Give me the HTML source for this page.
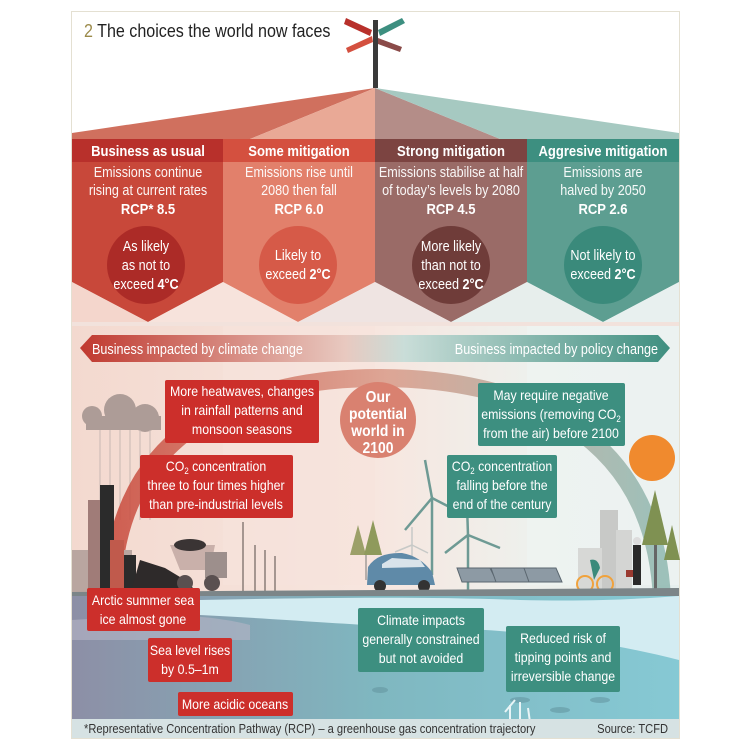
<!DOCTYPE html>
<html><head><meta charset="utf-8"><style>
html,body{margin:0;padding:0;background:#fff;}
svg{display:block;}
text{font-family:"Liberation Sans",sans-serif;transform-box:fill-box;transform-origin:center;transform:scaleX(.87);}
text.l{transform-origin:left center;}
text.r{transform-origin:right center;}
</style></head><body>
<svg width="750" height="750" viewBox="0 0 750 750" xmlns="http://www.w3.org/2000/svg">
<defs>
<linearGradient id="sky" x1="0" x2="1" y1="0" y2="0">
<stop offset="0" stop-color="#f3d9cf"/><stop offset="0.5" stop-color="#f7e6df"/><stop offset="0.75" stop-color="#eef0ec"/><stop offset="1" stop-color="#e6efee"/></linearGradient>
<linearGradient id="band" x1="0" x2="1"><stop offset="0" stop-color="#c0392f"/><stop offset="0.45" stop-color="#e8c9c0"/><stop offset="0.55" stop-color="#c9ddd8"/><stop offset="1" stop-color="#3f8f80"/></linearGradient>
<linearGradient id="water" x1="0" x2="1" y1="0" y2="0"><stop offset="0" stop-color="#8d8fa6"/><stop offset="0.5" stop-color="#7fb7c0"/><stop offset="1" stop-color="#86c9d4"/></linearGradient>
<linearGradient id="arc" x1="0" x2="1"><stop offset="0" stop-color="#c8493b"/><stop offset="0.5" stop-color="#d99a88"/><stop offset="1" stop-color="#8fb8b0"/></linearGradient>
</defs>
<rect x="0" y="0" width="750" height="750" fill="#fff"/>
<rect x="71.5" y="11.5" width="608" height="727" fill="#fff" stroke="#e4e0d2"/>
<rect x="72" y="325" width="607" height="400" fill="url(#sky)"/>
<rect x="223" y="325" width="152" height="260" fill="#f6e3dc" opacity="0.6"/>
<rect x="527" y="325" width="152" height="260" fill="#eef3f2" opacity="0.7"/>
<polygon points="375,88 72,133 72,282 148,322 223,282 223,150" fill="#d0705e"/>
<polygon points="375,88 223,150 223,282 298,322 375,282" fill="#e9a996"/>
<polygon points="375,88 375,282 451,322 527,282 527,150" fill="#b48d88"/>
<polygon points="375,88 527,150 527,282 603,322 679,282 679,133" fill="#a6c9c1"/>
<polygon points="72,162 223,162 223,282 148,322 72,282" fill="#c8483a"/>
<polygon points="223,162 375,162 375,282 298,322 223,282" fill="#e2806b"/>
<polygon points="375,162 527,162 527,282 451,322 375,282" fill="#9a6b67"/>
<polygon points="527,162 679,162 679,282 603,322 527,282" fill="#5d9e91"/>
<polygon points="72,282 148,322 72,322" fill="#f4d6cc"/>
<polygon points="148,322 223,282 298,322" fill="#f7e3dc"/>
<polygon points="298,322 375,282 451,322" fill="#efe4e2"/>
<polygon points="451,322 527,282 603,322" fill="#e7eeec"/>
<polygon points="603,322 679,282 679,322" fill="#e8f0ef"/>
<rect x="72" y="322" width="607" height="4" fill="#f2e2dc"/>
<rect x="72" y="139" width="151" height="23" fill="#b8302b"/>
<rect x="223" y="139" width="152" height="23" fill="#d4503f"/>
<rect x="375" y="139" width="152" height="23" fill="#7c4441"/>
<rect x="527" y="139" width="152" height="23" fill="#3d8f80"/>
<g fill="#fff" font-weight="bold" font-size="15" text-anchor="middle">
<text x="148" y="156">Business as usual</text>
<text x="299" y="156">Some mitigation</text>
<text x="451" y="156">Strong mitigation</text>
<text x="603" y="156">Aggresive mitigation</text>
</g>
<g fill="#fff" font-size="14.5" text-anchor="middle" opacity="0.95">
<text x="148" y="177">Emissions continue</text><text x="148" y="195">rising at current rates</text>
<text x="299" y="177">Emissions rise until</text><text x="299" y="195">2080 then fall</text>
<text x="451" y="177">Emissions stabilise at half</text><text x="451" y="195">of today’s levels by 2080</text>
<text x="603" y="177">Emissions are</text><text x="603" y="195">halved by 2050</text>
</g>
<g fill="#fff" font-size="15" font-weight="bold" text-anchor="middle">
<text x="148" y="214">RCP* 8.5</text><text x="299" y="214">RCP 6.0</text><text x="451" y="214">RCP 4.5</text><text x="603" y="214">RCP 2.6</text>
</g>
<circle cx="146" cy="265" r="39" fill="#ac2b27"/>
<circle cx="298" cy="265" r="39" fill="#d65a48"/>
<circle cx="451" cy="265" r="39" fill="#6f3c39"/>
<circle cx="603" cy="265" r="39" fill="#3a8a7b"/>
<g fill="#fff" font-size="14.5" text-anchor="middle">
<text x="146" y="251">As likely</text><text x="146" y="270">as not to</text><text x="146" y="289">exceed <tspan font-weight="bold">4°C</tspan></text>
<text x="298" y="260">Likely to</text><text x="298" y="279">exceed <tspan font-weight="bold">2°C</tspan></text>
<text x="451" y="251">More likely</text><text x="451" y="270">than not to</text><text x="451" y="289">exceed <tspan font-weight="bold">2°C</tspan></text>
<text x="603" y="260">Not likely to</text><text x="603" y="279">exceed <tspan font-weight="bold">2°C</tspan></text>
</g>
<rect x="373" y="20" width="5" height="68" fill="#3a3a3a"/>
<polygon points="346,18 372,30 370,36 344,24" fill="#b8302b"/>
<polygon points="378,30 402,18 405,23 380,36" fill="#3d8f80"/>
<polygon points="346,48 372,36 373,42 348,53" fill="#d4503f"/>
<polygon points="378,38 402,47 400,52 378,44" fill="#8a4a48"/>
<text class="l" x="84" y="37" font-size="18.5" fill="#222"><tspan fill="#9b8a4a">2</tspan> The choices the world now faces</text>
<polygon points="80,348 92,335 658,335 670,348 658,362 92,362" fill="url(#band)"/>
<text class="l" x="92" y="354" font-size="14.5" fill="#fff">Business impacted by climate change</text>
<text class="r" x="658" y="354" font-size="14.5" fill="#fff" text-anchor="end">Business impacted by policy change</text>
<g fill="#9c8d89" opacity="0.8">
<circle cx="92" cy="416" r="10"/><circle cx="120" cy="410" r="16"/><circle cx="145" cy="418" r="14"/><rect x="86" y="416" width="75" height="14"/>
</g>
<g stroke="#c9b8b3" stroke-width="1"><line x1="100" y1="430" x2="100" y2="520"/><line x1="110" y1="430" x2="110" y2="520"/><line x1="120" y1="430" x2="120" y2="520"/><line x1="130" y1="430" x2="130" y2="520"/><line x1="140" y1="430" x2="140" y2="520"/><line x1="150" y1="430" x2="150" y2="520"/></g>
<path d="M112,600 C112,420 260,378 378,378 C520,378 655,430 662,600" fill="none" stroke="url(#arc)" stroke-width="18" opacity="0.85"/>
<circle cx="652" cy="458" r="23" fill="#f08a2e"/>
<rect x="72" y="550" width="60" height="45" fill="#b9a6a0"/>
<rect x="88" y="500" width="20" height="95" fill="#a07c78"/>
<rect x="100" y="485" width="14" height="110" fill="#2b2b2b"/>
<rect x="110" y="540" width="14" height="55" fill="#c05a4c"/>
<rect x="124" y="555" width="12" height="40" fill="#2b2b2b"/>
<path d="M130,595 L140,560 L165,568 L185,580 L200,595 Z" fill="#2e2a2a"/>
<polygon points="170,545 215,545 210,570 180,570" fill="#c9b0aa"/>
<ellipse cx="190" cy="545" rx="16" ry="6" fill="#3a3434"/>
<rect x="205" y="552" width="22" height="26" fill="#9d8f8c"/>
<circle cx="185" cy="583" r="8" fill="#5a5050"/><circle cx="212" cy="583" r="8" fill="#5a5050"/>
<g stroke="#8a7d78" stroke-width="1.5"><line x1="243" y1="522" x2="243" y2="592"/><line x1="255" y1="545" x2="255" y2="592"/><line x1="265" y1="550" x2="265" y2="592"/><line x1="275" y1="556" x2="275" y2="592"/></g>
<g stroke="#6e9a94" stroke-width="2.5" fill="none">
<line x1="432" y1="498" x2="432" y2="575"/><line x1="432" y1="498" x2="425" y2="460"/><line x1="432" y1="498" x2="405" y2="530"/><line x1="432" y1="498" x2="465" y2="515"/>
<line x1="468" y1="535" x2="468" y2="590"/><line x1="468" y1="535" x2="467" y2="505"/><line x1="468" y1="535" x2="445" y2="553"/><line x1="468" y1="535" x2="500" y2="548"/>
</g>
<g stroke="#c7c9c7" stroke-width="1.5"><line x1="412" y1="545" x2="412" y2="575"/><line x1="412" y1="545" x2="395" y2="552"/><line x1="412" y1="545" x2="428" y2="553"/><line x1="412" y1="545" x2="412" y2="527"/></g>
<polygon points="358,525 366,555 350,555" fill="#9ca069"/><polygon points="373,520 382,555 364,555" fill="#8f9a5c"/>
<line x1="366" y1="555" x2="366" y2="580" stroke="#777"/>
<polygon points="655,490 668,545 642,545" fill="#7f9152"/><rect x="654" y="545" width="3" height="45" fill="#666"/>
<polygon points="672,525 680,560 664,560" fill="#7f9152"/>
<rect x="600" y="510" width="18" height="80" fill="#c8c9c7"/><rect x="616" y="530" width="16" height="60" fill="#d4d5d3"/><rect x="578" y="548" width="24" height="42" fill="#d7d8d6"/>
<path d="M367,585 L368,567 Q378,552 402,553 Q420,556 432,572 L435,585 Z" fill="#5f8aa8"/>
<path d="M382,564 L392,558 L420,560 L425,567 L382,568 Z" fill="#d9e3ea"/>
<circle cx="380" cy="586" r="6" fill="#333"/><circle cx="424" cy="586" r="6" fill="#333"/>
<g fill="#8d9aa4" stroke="#5b6770"><polygon points="457,568 490,568 497,582 462,582"/><polygon points="491,568 524,568 531,582 496,582"/><polygon points="524,568 556,568 562,582 529,582"/></g>
<circle cx="585" cy="584" r="8" fill="none" stroke="#f0a23c" stroke-width="2"/><circle cx="605" cy="584" r="8" fill="none" stroke="#f0a23c" stroke-width="2"/>
<path d="M590,560 Q598,558 600,568 L594,580 Z" fill="#3a8a7b"/>
<rect x="633" y="545" width="8" height="40" fill="#2a2a2a"/><circle cx="637" cy="541" r="4" fill="#ddd"/><rect x="626" y="570" width="7" height="7" fill="#9a3a30"/>
<polygon points="72,592 679,588 679,598 72,598" fill="#7c8588"/>
<rect x="72" y="596" width="607" height="126" fill="url(#water)"/>
<path d="M200,600 C300,598 420,596 520,600 C600,602 650,598 679,596 L679,660 C600,640 520,630 440,628 C360,626 300,620 200,615 Z" fill="#d3ecf2"/>
<path d="M72,620 C150,615 200,612 250,625 L250,640 L72,640 Z" fill="#b5b6c6" opacity="0.6"/>
<g fill="#5f8f9a" opacity="0.5"><ellipse cx="520" cy="700" rx="10" ry="3"/><ellipse cx="560" cy="710" rx="10" ry="3"/><ellipse cx="600" cy="700" rx="10" ry="3"/><ellipse cx="380" cy="690" rx="8" ry="3"/></g>
<g stroke="#e8f4f6" stroke-width="2" fill="none"><path d="M510,722 L510,705 M505,712 L515,700 M520,722 L520,702 M530,722 L528,708"/></g>
<rect x="72" y="719" width="607" height="19" fill="#d6e2e3"/>
<text class="l" x="84" y="733" font-size="12.8" fill="#333">*Representative Concentration Pathway (RCP) – a greenhouse gas concentration trajectory</text>
<text class="r" x="668" y="733" font-size="12.8" fill="#333" text-anchor="end">Source: TCFD</text>
<circle cx="378" cy="420" r="38" fill="#d98170"/>
<g fill="#fff" font-weight="bold" font-size="16" text-anchor="middle">
<text x="378" y="402">Our</text><text x="378" y="419">potential</text><text x="378" y="436">world in</text><text x="378" y="453">2100</text>
</g>
<g fill="#cc2f2b">
<rect x="165" y="380" width="154" height="63" rx="2"/>
<rect x="140" y="455" width="153" height="63" rx="2"/>
<rect x="87" y="588" width="113" height="43" rx="2"/>
<rect x="148" y="638" width="84" height="44" rx="2"/>
<rect x="178" y="692" width="115" height="24" rx="2"/>
</g>
<g fill="#3d8f80">
<rect x="478" y="383" width="147" height="63" rx="2"/>
<rect x="447" y="455" width="110" height="63" rx="2"/>
<rect x="358" y="608" width="126" height="64" rx="2"/>
<rect x="506" y="626" width="114" height="66" rx="2"/>
</g>
<g fill="#fff" font-size="14.2" text-anchor="middle">
<text x="242" y="396">More heatwaves, changes</text><text x="242" y="415">in rainfall patterns and</text><text x="242" y="434">monsoon seasons</text>
<text x="216" y="471">CO<tspan font-size="9" dy="3">2</tspan><tspan dy="-3"> concentration</tspan></text><text x="216" y="490">three to four times higher</text><text x="216" y="509">than pre-industrial levels</text>
<text x="143" y="605">Arctic summer sea</text><text x="143" y="624">ice almost gone</text>
<text x="190" y="655">Sea level rises</text><text x="190" y="674">by 0.5–1m</text>
<text x="235" y="709">More acidic oceans</text>
<text x="551" y="400">May require negative</text><text x="551" y="419">emissions (removing CO<tspan font-size="9" dy="3">2</tspan></text><text x="551" y="438">from the air) before 2100</text>
<text x="502" y="471">CO<tspan font-size="9" dy="3">2</tspan><tspan dy="-3"> concentration</tspan></text><text x="502" y="490">falling before the</text><text x="502" y="509">end of the century</text>
<text x="421" y="625">Climate impacts</text><text x="421" y="644">generally constrained</text><text x="421" y="663">but not avoided</text>
<text x="563" y="643">Reduced risk of</text><text x="563" y="662">tipping points and</text><text x="563" y="681">irreversible change</text>
</g>
</svg>
</body></html>
